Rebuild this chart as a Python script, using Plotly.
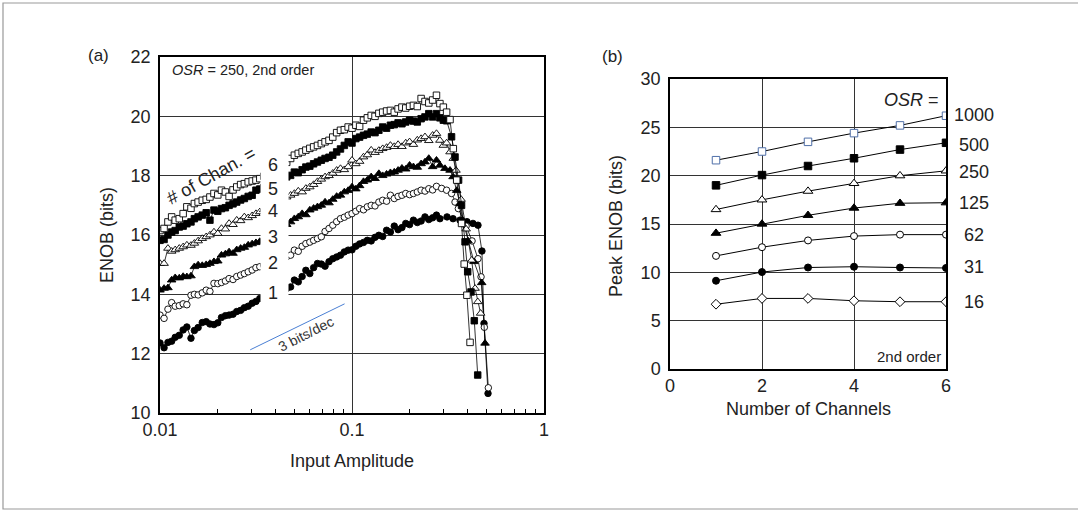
import plotly.graph_objects as go

W, H = 1078, 510
FONT = "Liberation Sans, Arial, sans-serif"

# ---------------- Panel (a): ENOB vs input amplitude ----------------
X_RISE = [0.0100, 0.0105, 0.0110, 0.0115, 0.0120, 0.0126, 0.0132, 0.0138, 0.0145, 0.0151,
          0.0158, 0.0166, 0.0174, 0.0182, 0.0191, 0.0200, 0.0209, 0.0219, 0.0229, 0.0240,
          0.0251, 0.0263, 0.0275, 0.0288, 0.0302, 0.0316, 0.0331, 0.0347, 0.0363, 0.0380,
          0.0398, 0.0417, 0.0437, 0.0457, 0.0479, 0.0501, 0.0525, 0.0550, 0.0575, 0.0603,
          0.0631, 0.0661, 0.0692, 0.0724, 0.0759, 0.0794, 0.0832, 0.0871, 0.0912, 0.0955,
          0.1000, 0.1047, 0.1096, 0.1148, 0.1202, 0.1259, 0.1318, 0.1380, 0.1445, 0.1514,
          0.1585, 0.1660, 0.1738, 0.1820, 0.1905, 0.1995, 0.2089, 0.2188, 0.2291, 0.2399,
          0.2512, 0.2630, 0.2754]

CH1_RISE = [12.36, 12.20, 12.38, 12.42, 12.55, 12.62, 12.80, 12.90, 12.52, 12.78,
            12.88, 13.05, 13.08, 13.00, 12.98, 13.04, 13.22, 13.28, 13.30, 13.33,
            13.42, 13.46, 13.55, 13.60, 13.70, 13.76, 13.86, 13.90, 13.95, 14.00,
            14.05, 14.10, 14.14, 14.20, 14.25, 14.48, 14.42, 14.60, 14.81, 14.70,
            14.90, 15.04, 15.02, 14.95, 15.10, 15.20, 15.26, 15.32, 15.43, 15.49,
            15.50, 15.62, 15.70, 15.75, 15.82, 15.80, 15.92, 15.99, 15.95, 16.16,
            16.10, 16.30, 16.18, 16.25, 16.39, 16.35, 16.50, 16.42, 16.47, 16.61,
            16.52, 16.58, 16.67]
CH1_TAIL_X = [0.287, 0.3126, 0.336, 0.365, 0.397, 0.4266, 0.453, 0.475, 0.487, 0.511]
CH1_TAIL_Y = [16.55, 16.61, 16.55, 16.50, 16.45, 16.39, 16.33, 15.46, 13.02, 10.66]

CH2_RISE = [13.30, 13.19, 13.50, 13.72, 13.60, 13.62, 13.68, 13.65, 13.97, 14.00,
            13.98, 14.05, 14.14, 14.10, 14.37, 14.36, 14.40, 14.45, 14.53, 14.50,
            14.60, 14.65, 14.70, 14.76, 14.82, 14.90, 14.93, 14.98, 15.02, 15.08,
            15.12, 15.18, 15.22, 15.27, 15.32, 15.49, 15.45, 15.62, 15.71, 15.76,
            15.82, 15.88, 15.94, 16.12, 16.22, 16.33, 16.45, 16.55, 16.60, 16.67,
            16.72, 16.80, 16.89, 16.85, 16.95, 17.00, 16.98, 17.11, 17.17, 17.14,
            17.34, 17.23, 17.30, 17.34, 17.40, 17.36, 17.40, 17.45, 17.51, 17.48,
            17.56, 17.52, 17.64]
CH2_TAIL_X = [0.293, 0.311, 0.330, 0.344, 0.358, 0.393, 0.422, 0.453, 0.470, 0.489, 0.513]
CH2_TAIL_Y = [17.57, 17.51, 17.40, 17.11, 16.89, 16.30, 15.80, 15.20, 14.59, 12.89, 10.85]

CH3_RISE = [14.14, 14.20, 14.22, 14.48, 14.56, 14.55, 14.60, 14.59, 14.62, 14.93,
            14.99, 14.97, 15.00, 15.04, 15.10, 15.12, 15.32, 15.36, 15.43, 15.38,
            15.50, 15.55, 15.58, 15.66, 15.70, 15.74, 15.78, 15.85, 15.92, 16.00,
            16.08, 16.16, 16.25, 16.35, 16.44, 16.55, 16.61, 16.72, 16.68, 16.84,
            16.90, 16.95, 17.00, 17.11, 17.08, 17.20, 17.30, 17.34, 17.45, 17.50,
            17.62, 17.55, 17.66, 17.80, 17.85, 17.96, 17.90, 18.07, 18.00, 18.05,
            18.10, 18.12, 18.18, 18.25, 18.22, 18.35, 18.30, 18.28, 18.40, 18.46,
            18.58, 18.30, 18.52]
CH3_TAIL_X = [0.287, 0.305, 0.324, 0.336, 0.351, 0.365, 0.377, 0.402, 0.432, 0.4737, 0.493]
CH3_TAIL_Y = [18.35, 18.24, 18.18, 17.96, 17.50, 17.06, 16.50, 15.80, 15.10, 14.39, 12.35]

CH4_RISE = [15.04, 15.04, 15.55, 15.45, 15.50, 15.55, 15.60, 15.66, 15.65, 15.72,
            15.80, 15.88, 15.94, 16.00, 16.10, 16.05, 16.22, 16.20, 16.39, 16.35,
            16.50, 16.48, 16.61, 16.58, 16.65, 16.72, 16.78, 16.85, 16.92, 17.00,
            17.08, 17.15, 17.22, 17.28, 17.34, 17.40, 17.48, 17.45, 17.57, 17.62,
            17.70, 17.80, 17.88, 17.96, 18.00, 18.08, 18.18, 18.24, 18.20, 18.30,
            18.52, 18.40, 18.48, 18.63, 18.70, 18.86, 18.78, 18.85, 18.91, 18.95,
            19.02, 18.98, 19.05, 18.98, 19.10, 19.14, 19.05, 19.20, 19.25, 19.31,
            19.18, 19.36, 19.42]
CH4_TAIL_X = [0.287, 0.299, 0.311, 0.324, 0.337, 0.348, 0.370, 0.393, 0.420, 0.4375, 0.4519, 0.4677]
CH4_TAIL_Y = [19.19, 19.02, 19.10, 18.80, 18.58, 18.18, 17.20, 16.20, 15.15, 14.20, 13.75, 13.36]

CH5_RISE = [15.82, 15.85, 16.00, 16.10, 16.15, 16.27, 16.30, 16.38, 16.44, 16.55,
            16.61, 16.67, 16.75, 16.50, 16.84, 16.80, 16.89, 16.92, 17.00, 17.05,
            17.11, 17.18, 17.23, 17.30, 17.34, 17.51, 17.55, 17.60, 17.66, 17.72,
            17.78, 17.85, 17.90, 17.96, 18.01, 18.12, 18.10, 18.20, 18.29, 18.32,
            18.40, 18.46, 18.52, 18.58, 18.62, 18.69, 18.80, 18.90, 19.02, 19.14,
            19.10, 19.25, 19.30, 19.36, 19.40, 19.47, 19.45, 19.53, 19.64, 19.60,
            19.70, 19.72, 19.78, 19.75, 19.81, 19.87, 19.84, 19.81, 19.92, 19.98,
            20.09, 19.98, 20.09]
CH5_TAIL_X = [0.287, 0.299, 0.311, 0.330, 0.344, 0.359, 0.372, 0.388, 0.4005, 0.4167, 0.4335, 0.4516]
CH5_TAIL_Y = [19.95, 19.87, 19.85, 19.31, 18.63, 17.85, 17.00, 15.77, 14.76, 14.08, 13.11, 11.28]

CH6_RISE = [16.15, 16.22, 16.44, 16.61, 16.50, 16.55, 16.72, 16.95, 16.90, 17.06,
            17.11, 17.17, 17.20, 17.28, 17.40, 17.35, 17.51, 17.45, 17.30, 17.52,
            17.62, 17.70, 17.73, 17.79, 17.82, 17.85, 17.90, 17.98, 18.05, 18.12,
            18.20, 18.28, 18.36, 18.45, 18.58, 18.69, 18.75, 18.80, 18.86, 18.92,
            18.97, 19.02, 19.08, 19.14, 19.19, 19.30, 19.45, 19.53, 19.55, 19.64,
            19.60, 19.70, 19.66, 19.87, 19.95, 20.03, 20.00, 20.10, 20.14, 20.18,
            20.20, 20.14, 20.25, 20.31, 20.28, 20.34, 20.37, 20.33, 20.60, 20.50,
            20.45, 20.55, 20.71]
CH6_TAIL_X = [0.287, 0.299, 0.311, 0.324, 0.337, 0.351, 0.372, 0.384, 0.3967, 0.412]
CH6_TAIL_Y = [20.43, 20.31, 20.14, 19.89, 18.91, 17.85, 16.39, 15.02, 13.97, 12.38]

CHAN_LABELS = ["1", "2", "3", "4", "5", "6"]

# ---------------- Panel (b): peak ENOB vs number of channels ----------------
N_CHAN = [1, 2, 3, 4, 5, 6]
OSR_LABELS = ["1000", "500", "250", "125", "62", "31", "16"]
PEAK_1000 = [21.6, 22.5, 23.5, 24.4, 25.2, 26.2]
PEAK_500 = [19.0, 20.06, 21.0, 21.8, 22.7, 23.4]
PEAK_250 = [16.5, 17.5, 18.4, 19.2, 20.0, 20.5]
PEAK_125 = [14.05, 15.0, 15.9, 16.65, 17.15, 17.2]
PEAK_62 = [11.7, 12.6, 13.3, 13.75, 13.9, 13.9]
PEAK_31 = [9.13, 10.03, 10.5, 10.58, 10.5, 10.45]
PEAK_16 = [6.7, 7.3, 7.3, 7.06, 6.96, 6.96]


def px(x):
    return x / W


def py(y):
    return 1 - y / H


fig = go.Figure()

left_series = [
    (CH1_RISE, CH1_TAIL_X, CH1_TAIL_Y, "circle", "black", 6.5),
    (CH2_RISE, CH2_TAIL_X, CH2_TAIL_Y, "circle", "white", 6.5),
    (CH3_RISE, CH3_TAIL_X, CH3_TAIL_Y, "triangle-up", "black", 7.5),
    (CH4_RISE, CH4_TAIL_X, CH4_TAIL_Y, "triangle-up", "white", 7.5),
    (CH5_RISE, CH5_TAIL_X, CH5_TAIL_Y, "square", "black", 6.5),
    (CH6_RISE, CH6_TAIL_X, CH6_TAIL_Y, "square", "white", 6.5),
]
for rise, tx, ty, sym, fill, size in left_series:
    fig.add_trace(go.Scatter(
        x=X_RISE + tx, y=rise + ty, mode="lines+markers",
        line=dict(color="black", width=0.8),
        marker=dict(symbol=sym, size=size, color=fill, line=dict(color="black", width=0.9)),
        xaxis="x", yaxis="y", showlegend=False, hoverinfo="skip"))

# 3 bits/dec guide line
fig.add_trace(go.Scatter(x=[0.0295, 0.0915], y=[12.13, 13.68], mode="lines",
                         line=dict(color="#4a7fd4", width=1), xaxis="x", yaxis="y",
                         showlegend=False, hoverinfo="skip"))

right_series = [
    (PEAK_1000, "square", "white", "#4f6fa8", 7.5),
    (PEAK_500, "square", "black", "black", 7.5),
    (PEAK_250, "triangle-up", "white", "black", 8.5),
    (PEAK_125, "triangle-up", "black", "black", 8.5),
    (PEAK_62, "circle", "white", "black", 7),
    (PEAK_31, "circle", "black", "black", 7),
    (PEAK_16, "diamond", "white", "black", 7.5),
]
for ys, sym, fill, edge, size in right_series:
    fig.add_trace(go.Scatter(
        x=N_CHAN, y=ys, mode="lines+markers",
        line=dict(color="black", width=1),
        marker=dict(symbol=sym, size=size, color=fill, line=dict(color=edge, width=1)),
        xaxis="x2", yaxis="y2", showlegend=False, hoverinfo="skip"))

axis_common = dict(showline=True, mirror=True, linecolor="black", linewidth=1.5,
                   showgrid=True, gridcolor="#333333", gridwidth=1, zeroline=False,
                   tickfont=dict(family=FONT, size=18, color="#222"), ticks="",
                   automargin=False)

minor_vals = [0.02, 0.03, 0.04, 0.05, 0.06, 0.07, 0.08, 0.09,
              0.2, 0.3, 0.4, 0.5, 0.6, 0.7, 0.8, 0.9]

fig.update_layout(
    width=W, height=H, margin=dict(l=0, r=0, t=0, b=0, autoexpand=False),
    paper_bgcolor="white", plot_bgcolor="white",
    font=dict(family=FONT, color="#222"),
    xaxis=dict(axis_common, type="log", range=[-2, 0], domain=[px(160), px(544)],
               tickvals=[0.01, 0.1, 1], ticktext=["0.01", "0.1", "1"], anchor="y",
               minor=dict(tickvals=minor_vals, ticks="inside", ticklen=4,
                          tickcolor="black", showgrid=False)),
    yaxis=dict(axis_common, range=[10, 22], dtick=2, domain=[py(413), py(57)],
               anchor="x", ticklabelstandoff=4),
    xaxis2=dict(axis_common, range=[0, 6], dtick=2, domain=[px(670), px(946)], anchor="y2"),
    yaxis2=dict(axis_common, range=[0, 30], dtick=5, domain=[py(369), py(79)],
                anchor="x2", ticklabelstandoff=4),
)

shapes = []
# white box hiding data behind the channel labels
shapes.append(dict(type="rect", xref="paper", yref="paper", layer="above",
                   x0=px(260.5), x1=px(288.5), y0=py(304), y1=py(146),
                   fillcolor="white", line=dict(width=0)))
# outer frame
shapes.append(dict(type="rect", xref="paper", yref="paper", layer="below",
                   x0=px(3), x1=px(1082), y0=py(509), y1=py(3),
                   fillcolor="rgba(0,0,0,0)", line=dict(color="#999999", width=1.2)))
fig.update_layout(shapes=shapes)

ann = []


def text(x, y, s, size=18, angle=0, xanchor="center", color="#222"):
    ann.append(dict(x=px(x), y=py(y), xref="paper", yref="paper", text=s,
                    showarrow=False, textangle=angle, xanchor=xanchor, yanchor="middle",
                    font=dict(family=FONT, size=size, color=color)))


text(98, 55, "(a)", 17)
text(612, 56, "(b)", 17)
text(170, 70, "<i>OSR</i> = 250, 2nd order", 14.5, xanchor="left")
text(211, 176, "# of Chan. =", 18, angle=-29)
for lab, yy in zip(CHAN_LABELS, [293, 263, 237, 211, 189, 165]):
    text(273, yy, lab, 18)
text(306, 334, "3 bits/dec", 14, angle=-27, color="#333")
text(352, 461, "Input Amplitude", 18)
text(107, 235, "ENOB (bits)", 18, angle=-90)
text(616, 226, "Peak ENOB (bits)", 18, angle=-90)
text(808, 409, "Number of Channels", 18)
text(941, 100, "<i>OSR</i> =", 18, xanchor="right")
for lab, yy in zip(OSR_LABELS, [115, 145, 172, 203, 235, 267, 302]):
    text(974, yy, lab, 18)
text(943, 356, "2nd order", 15, xanchor="right")
fig.update_layout(annotations=ann)

# remove the browser's default page margin so the 1078x510 figure fills the window
fig.write_html(
    "out.html",
    post_script=("document.documentElement.style.margin='0';"
                 "document.body.style.margin='0';document.body.style.padding='0';"
                 "document.body.style.overflow='hidden';"))
